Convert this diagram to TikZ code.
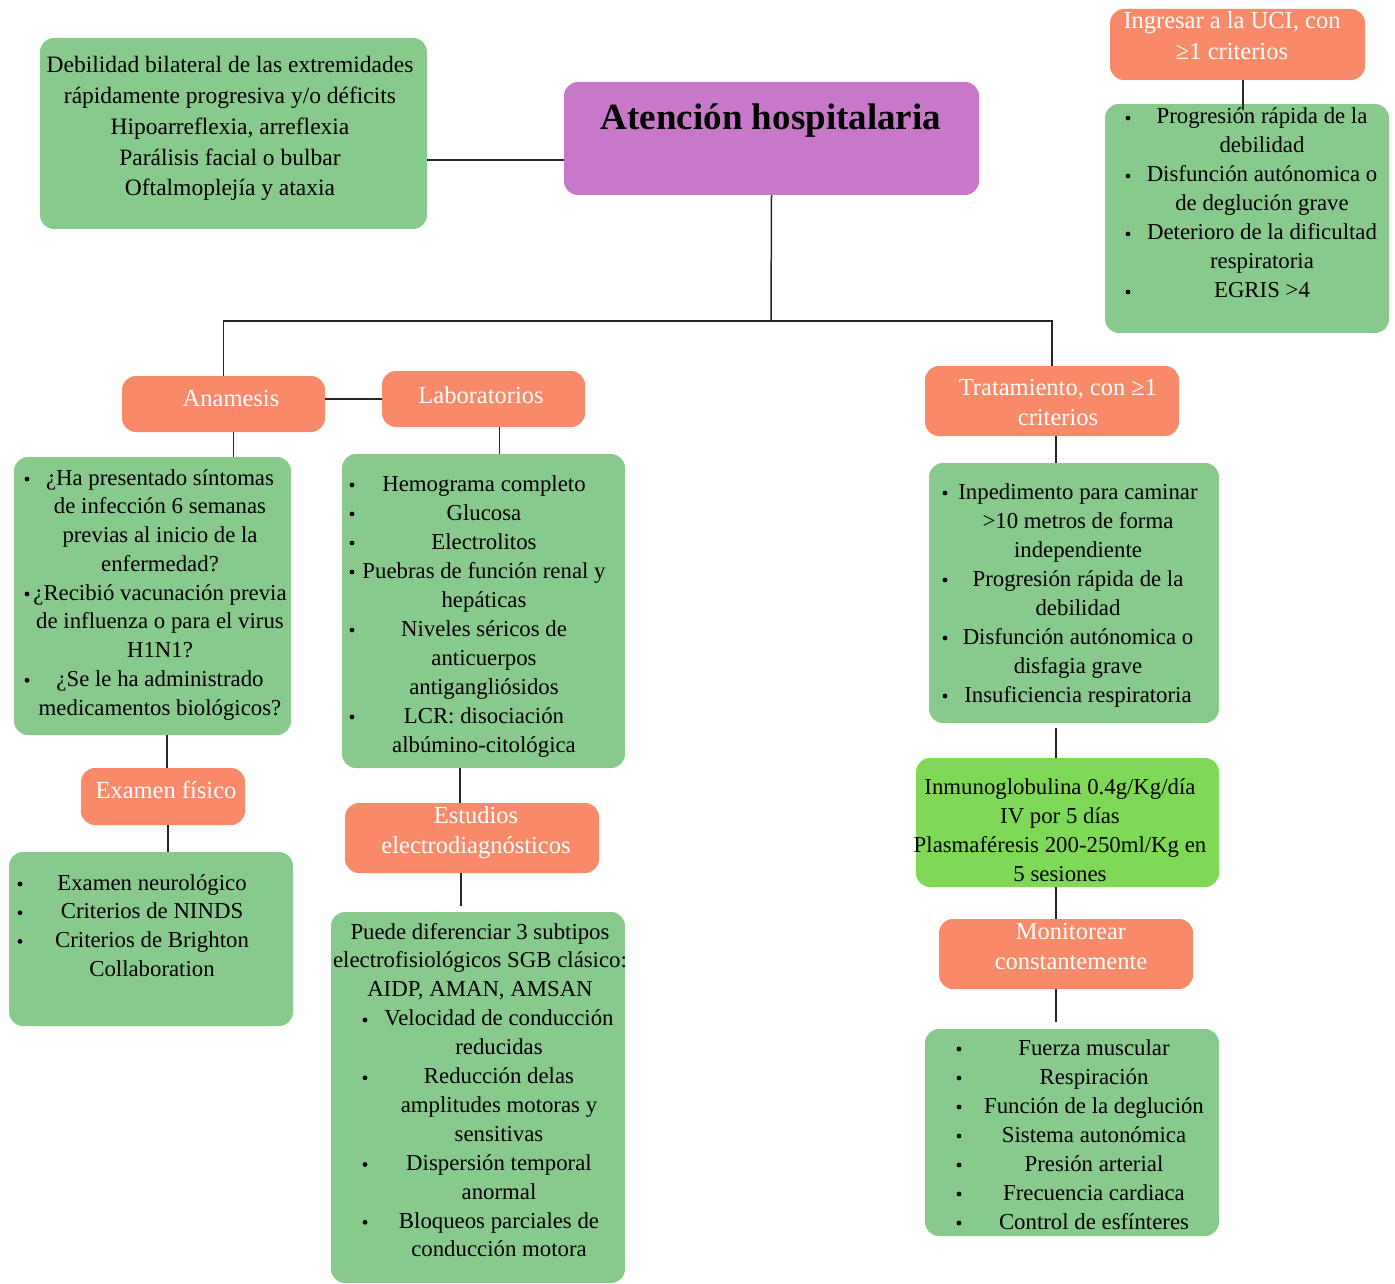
\documentclass[tikz,border=0pt]{standalone}
\usepackage{fontspec}
\setmainfont{Liberation Serif}
\usetikzlibrary{fit,calc}
\definecolor{leaf}{HTML}{88C98C}
\definecolor{lime}{HTML}{7FD957}
\definecolor{coral}{HTML}{F88A6A}
\definecolor{orchid}{HTML}{C778C8}
\tikzset{
  card/.style={rounded corners=14pt, inner sep=0pt, fill=#1},
  body/.style={font=\fontsize{22.8}{27}\selectfont, inner sep=0pt, anchor=base, text=black},
  bigbody/.style={body, font=\fontsize{23.5}{28}\selectfont},
  head/.style={body, font=\fontsize{24.5}{28}\selectfont, text=white},
  link/.style={draw=black!85, line width=1.5pt},
}
% one centred node per text line: style, name prefix, x, first baseline, line step, lines
\newcommand\txtlines[6]{%
  \foreach \t [count=\i from 0] in {#6} {\node[#1] (#2-\i) at (#3,{#4+\i*#5}) {\t};}}
% list bullet
\newcommand\dotat[2]{\fill[black] (#1,#2) circle (2.4pt);}

\begin{document}
\begin{tikzpicture}[x=1pt,y=-1pt]
\useasboundingbox (0,0) rectangle (1395,1284);
\fill[white] (0,0) rectangle (1395,1284);

% ---------- boxes ----------
\node[card=leaf,   fit={(40,38) (427,229)}]    (deb)   {};
\node[card=orchid, fit={(564,82) (979,195)}]   (aten)  {};
\node[card=coral,  fit={(1110,9) (1365,80)}]   (uci)   {};
\node[card=leaf,   fit={(1105,104) (1389,333)}] (uciq) {};
\node[card=coral,  fit={(122,376) (325,432)}]  (anam)  {};
\node[card=coral,  fit={(382,371) (585,427)}]  (lab)   {};
\node[card=leaf,   fit={(14,457) (291,735)}]   (anq)   {};
\node[card=leaf,   fit={(342,454) (625,768)}]  (labq)  {};
\node[card=coral,  fit={(81,768) (245,825)}]   (exam)  {};
\node[card=leaf,   fit={(9,852) (293,1026)}]   (examq) {};
\node[card=coral,  fit={(345,803) (599,873)}]  (est)   {};
\node[card=leaf,   fit={(331,912) (625,1283)}] (estq)  {};
\node[card=coral,  fit={(925,366) (1179,436)}] (trat)  {};
\node[card=leaf,   fit={(929,463) (1219,723)}] (tratq) {};
\node[card=lime,   fit={(916,758) (1219,887)}] (inm)   {};
\node[card=coral,  fit={(939,919) (1193,989)}] (mon)   {};
\node[card=leaf,   fit={(925,1029) (1219,1236)}] (monq) {};

% ---------- connectors ----------
\coordinate (debhook) at ([yshift=-26.5pt]deb.east);
\draw[link] (debhook) -- (debhook -| aten.west);
\coordinate (bus) at (771,321);
\draw[link] (aten.south) -- (bus);
\draw[link] (anam.north) |- (bus) -| (trat.north);
\draw[link] (lab.west -| anam.east) -- (lab.west);
\coordinate (c1) at ([xshift=10pt]anam.south);
\draw[link] (c1) -- (c1 |- anq.north);
\coordinate (c2) at ([xshift=16pt]lab.south);
\draw[link] (c2) -- (c2 |- labq.north);
\coordinate (c3) at ([xshift=4pt]exam.north);
\draw[link] (c3 |- anq.south) -- (c3);
\coordinate (c4) at ([xshift=5pt]exam.south);
\draw[link] (c4) -- (c4 |- examq.north);
\coordinate (c5) at ([xshift=-12pt]est.north);
\draw[link] (c5 |- labq.south) -- (c5);
\coordinate (c6) at ([xshift=-11pt]est.south);
\draw[link] (c6) -- ([yshift=6pt]c6 |- estq.north);
\coordinate (rail) at (1056,0);
\draw[link] (rail |- trat.south) -- (rail |- tratq.north);
\draw[link] ([yshift=-5pt]rail |- tratq.south) -- (rail |- inm.north);
\draw[link] (rail |- inm.south) -- (rail |- mon.north);
\draw[link] (rail |- mon.south) -- ([yshift=7pt]rail |- monq.north);
\coordinate (c7) at ([xshift=5.5pt]uci.south);
\draw[link] (c7) -- ([yshift=-6pt]c7 |- uciq.north);

% ---------- texts ----------
\node[inner sep=0pt, anchor=base, font=\fontsize{37}{40}\selectfont\bfseries] (title) at (771,130) {Atención hospitalaria};

\txtlines{bigbody}{debt}{230}{73}{30.7}{Debilidad bilateral de las extremidades,
  rápidamente progresiva y/o déficits, {Hipoarreflexia, arreflexia},
  Parálisis facial o bulbar, Oftalmoplejía y ataxia}

\txtlines{head}{ucit}{1232}{29}{31}{{Ingresar a la UCI, con}, ≥1 criterios}
\txtlines{body}{uciqt}{1262}{124}{29}{Progresión rápida de la, debilidad,
  Disfunción autónomica o, de deglución grave, Deterioro de la dificultad,
  respiratoria, EGRIS >4}
\foreach \k in {0,2,4,6} {\dotat{1128}{118+\k*29}}

\txtlines{head}{anamt}{231}{406}{30}{Anamesis}
\txtlines{head}{labt}{481}{403}{30}{Laboratorios}

\txtlines{body}{anqt}{160}{485}{28.75}{¿Ha presentado síntomas, de infección 6 semanas,
  previas al inicio de la, enfermedad?, ¿Recibió vacunación previa,
  de influenza o para el virus, H1N1?, ¿Se le ha administrado,
  medicamentos biológicos?}
\foreach \k in {0,4,7} {\dotat{27}{479+\k*28.75}}

\txtlines{body}{labqt}{484}{491}{29}{Hemograma completo, Glucosa, Electrolitos,
  Puebras de función renal y, hepáticas, Niveles séricos de, anticuerpos,
  antigangliósidos, LCR: disociación, albúmino-citológica}
\foreach \k in {0,1,2,3,5,8} {\dotat{352}{485+\k*29}}

\txtlines{head}{examt}{166}{798}{30}{Examen físico}
\txtlines{body}{examqt}{152}{890}{28.7}{Examen neurológico, Criterios de NINDS,
  Criterios de Brighton, Collaboration}
\foreach \k in {0,1,2} {\dotat{20}{884+\k*28.7}}

\txtlines{head}{estt}{476}{823}{30}{Estudios, electrodiagnósticos}
\txtlines{body}{estqa}{480}{939}{28.9}{Puede diferenciar 3 subtipos,
  electrofisiológicos SGB clásico:, {AIDP, AMAN, AMSAN}}
\txtlines{body}{estqb}{499}{1025.7}{28.9}{Velocidad de conducción, reducidas,
  Reducción delas, amplitudes motoras y, sensitivas, Dispersión temporal,
  anormal, Bloqueos parciales de, conducción motora}
\foreach \k in {0,2,5,7} {\dotat{365}{1020+\k*28.9}}

\txtlines{head}{tratt}{1058}{395}{30}{{Tratamiento, con ≥1}, criterios}
\txtlines{body}{tratqt}{1078}{499}{29}{Inpedimento para caminar,
  >10 metros de forma, independiente, Progresión rápida de la, debilidad,
  Disfunción autónomica o, disfagia grave, Insuficiencia respiratoria}
\foreach \k in {0,3,5,7} {\dotat{945}{493+\k*29}}

\txtlines{body}{inmt}{1060}{794}{29}{Inmunoglobulina 0.4g/Kg/día, IV por 5 días,
  Plasmaféresis 200-250ml/Kg en, 5 sesiones}

\txtlines{head}{mont}{1071}{939}{30.5}{Monitorear, constantemente}
\txtlines{body}{monqt}{1094}{1055}{29}{Fuerza muscular, Respiración,
  Función de la deglución, Sistema autonómica, Presión arterial,
  Frecuencia cardiaca, Control de esfínteres}
\foreach \k in {0,...,6} {\dotat{959}{1049+\k*29}}
\end{tikzpicture}
\end{document}
